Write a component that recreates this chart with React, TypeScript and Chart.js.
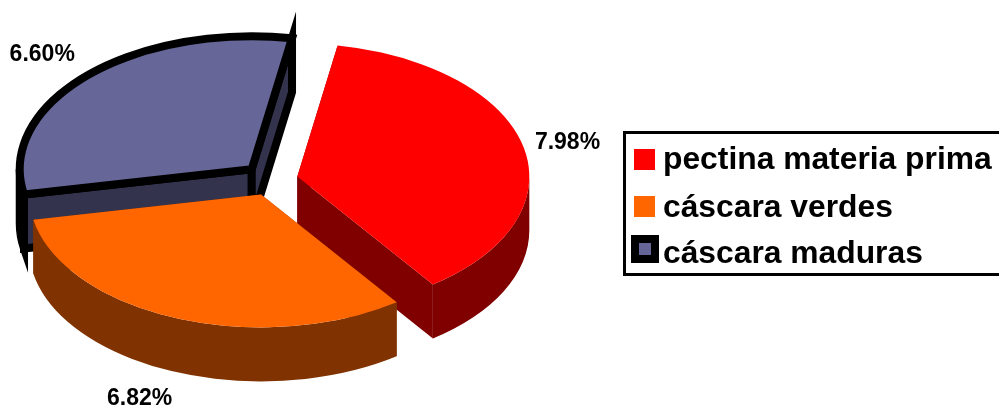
import React, { useEffect, useRef } from "react";
import { Chart, registerables } from "chart.js";

Chart.register(...registerables);

// Series
const categories = ["pectina materia prima", "cáscara verdes", "cáscara maduras"];
const values = [7.98, 6.82, 6.6];
const valueLabels = ["7.98%", "6.82%", "6.60%"];

// Slice styling
const topColors = ["#FF0000", "#FF6600", "#666699"];
const sideColors = ["#800000", "#803300", "#33334D"];
const borderColors = ["rgba(0,0,0,0)", "rgba(0,0,0,0)", "#000000"];
const borderWidths = [0, 0, 8];

// Projection of the flat pie onto a tilted disc
const RX = 232;
const RY = 133;
const DEPTH = 54;
const EXPLODE = 27;
const FIRST_SLICE_ROTATION = 10;
const paintOrder = [2, 0, 1];

// Percent labels: pixel nudge from each slice's rim at its mid angle
const labelNudges = [
  [44, -4],
  [-36, 81],
  [-44, -21],
];

// Legend layout
const legendFont = "bold 31.8px 'Liberation Sans', Arial, sans-serif";
const legendFrame = { x: 624.5, y: 132.5, w: 400, h: 142 };
const legendSwatches = [
  { x: 634, y: 149, size: 21 },
  { x: 634, y: 196, size: 21 },
  { x: 635, y: 239, size: 20 },
];
const legendBaselines = [169, 217, 263];
const legendTextX = 663;

function slicePath(ctx: CanvasRenderingContext2D, cx: number, cy: number, a0: number, a1: number) {
  ctx.beginPath();
  ctx.moveTo(cx, cy);
  ctx.ellipse(cx, cy, RX, RY, 0, a0, a1);
  ctx.closePath();
}

function radialWallPath(ctx: CanvasRenderingContext2D, cx: number, cy: number, a: number) {
  const ex = cx + RX * Math.cos(a);
  const ey = cy + RY * Math.sin(a);
  ctx.beginPath();
  ctx.moveTo(cx, cy);
  ctx.lineTo(ex, ey);
  ctx.lineTo(ex, ey + DEPTH);
  ctx.lineTo(cx, cy + DEPTH);
  ctx.closePath();
}

function rimWallPath(ctx: CanvasRenderingContext2D, cx: number, cy: number, lo: number, hi: number) {
  ctx.beginPath();
  ctx.ellipse(cx, cy, RX, RY, 0, lo, hi);
  ctx.ellipse(cx, cy + DEPTH, RX, RY, 0, hi, lo, true);
  ctx.closePath();
}

// The stretch of a slice's rim that faces the viewer (lower half of the ellipse)
function visibleRimRanges(a0: number, a1: number): [number, number][] {
  const ranges: [number, number][] = [];
  for (let k = -1; k <= 1; k++) {
    const lo = Math.max(a0, 2 * Math.PI * k);
    const hi = Math.min(a1, 2 * Math.PI * k + Math.PI);
    if (hi > lo) ranges.push([lo, hi]);
  }
  return ranges;
}

const tiltedPie = {
  id: "tiltedPie",
  beforeDatasetsDraw(chart: any) {
    const { ctx } = chart;
    const arcs = chart.getDatasetMeta(0).data;
    ctx.save();
    ctx.lineJoin = "miter";
    ctx.miterLimit = 12;

    const centreOf = (arc: any) => {
      const mid = (arc.startAngle + arc.endAngle) / 2;
      return {
        mid,
        cx: arc.x + EXPLODE * Math.cos(mid),
        cy: arc.y + (EXPLODE * RY * Math.sin(mid)) / RX,
      };
    };

    paintOrder.forEach((i) => {
      const arc = arcs[i];
      const { cx, cy } = centreOf(arc);
      const { startAngle: a0, endAngle: a1 } = arc;
      const bw = arc.options.borderWidth;
      ctx.fillStyle = sideColors[i];
      ctx.strokeStyle = arc.options.borderColor;
      ctx.lineWidth = bw;
      const paint = () => {
        ctx.fill();
        if (bw > 0) ctx.stroke();
      };
      visibleRimRanges(a0, a1).forEach(([lo, hi]) => {
        rimWallPath(ctx, cx, cy, lo, hi);
        paint();
      });
      radialWallPath(ctx, cx, cy, a0);
      paint();
      radialWallPath(ctx, cx, cy, a1);
      paint();
      slicePath(ctx, cx, cy, a0, a1);
      ctx.fillStyle = arc.options.backgroundColor;
      paint();
    });

    // Percent labels
    ctx.fillStyle = "#000000";
    ctx.font = "bold 23px 'Liberation Sans', Arial, sans-serif";
    ctx.textAlign = "center";
    ctx.textBaseline = "middle";
    arcs.forEach((arc: any, i: number) => {
      const { mid, cx, cy } = centreOf(arc);
      const [nx, ny] = labelNudges[i];
      ctx.fillText(valueLabels[i], cx + RX * Math.cos(mid) + nx, cy + RY * Math.sin(mid) + ny);
    });

    // Legend
    ctx.strokeStyle = "#000000";
    ctx.lineWidth = 3;
    ctx.strokeRect(legendFrame.x, legendFrame.y, legendFrame.w, legendFrame.h);
    ctx.font = legendFont;
    ctx.textAlign = "left";
    ctx.textBaseline = "alphabetic";
    categories.forEach((name, i) => {
      const s = legendSwatches[i];
      ctx.fillStyle = topColors[i];
      ctx.fillRect(s.x, s.y, s.size, s.size);
      if (borderWidths[i] > 0) {
        ctx.strokeStyle = borderColors[i];
        ctx.lineWidth = borderWidths[i];
        ctx.strokeRect(s.x, s.y, s.size, s.size);
      }
      ctx.fillStyle = "#000000";
      ctx.fillText(name, legendTextX, legendBaselines[i]);
    });

    ctx.restore();
    return false;
  },
};

export default function App() {
  const canvasRef = useRef<HTMLCanvasElement>(null);

  useEffect(() => {
    const chart = new Chart(canvasRef.current as HTMLCanvasElement, {
      type: "pie",
      data: {
        labels: categories,
        datasets: [
          {
            data: values,
            backgroundColor: topColors,
            borderColor: borderColors,
            borderWidth: borderWidths,
          },
        ],
      },
      options: {
        animation: false,
        responsive: false,
        rotation: FIRST_SLICE_ROTATION,
        events: [],
        layout: { padding: { left: 0, top: 0, right: 457, bottom: 48 } },
        plugins: { legend: { display: false }, tooltip: { enabled: false } },
      },
      plugins: [tiltedPie],
    });
    return () => chart.destroy();
  }, []);

  return (
    <div style={{ position: "fixed", left: 0, top: 0, width: 999, height: 408, background: "#ffffff" }}>
      <canvas ref={canvasRef} width={999} height={408} style={{ display: "block" }} />
    </div>
  );
}
